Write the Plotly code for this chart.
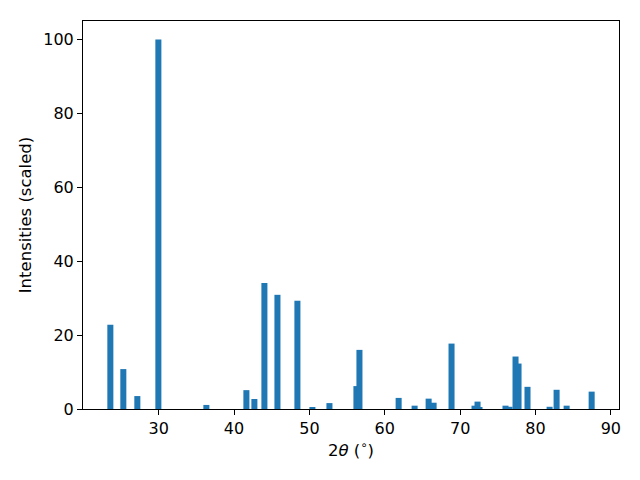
import plotly.graph_objects as go

two_theta = [23.59, 25.31, 27.17, 29.96, 36.33, 41.64, 42.70, 44.03, 45.76, 48.41,
             50.40, 52.66, 56.24, 56.64, 61.84, 63.96, 65.82, 66.48, 68.86, 71.91,
             72.31, 72.57, 76.02, 76.56, 77.35, 77.75, 78.94, 81.87, 82.80, 84.13, 87.45]
intensity = [22.8, 10.8, 3.5, 100, 1.1, 5.1, 2.7, 34.1, 30.9, 29.3,
             0.5, 1.6, 6.2, 16.0, 3.0, 0.9, 2.8, 1.7, 17.7, 0.9,
             2.0, 0.3, 0.9, 0.6, 14.2, 12.3, 6.0, 0.6, 5.2, 0.9, 4.7]
x_ticks = [30, 40, 50, 60, 70, 80, 90]
y_ticks = [0, 20, 40, 60, 80, 100]

fig = go.Figure()
fig.add_trace(go.Bar(x=two_theta, y=intensity, width=0.8,
                     marker=dict(color="#1f77b4", line=dict(width=0))))

axis_common = dict(showgrid=False, zeroline=False, showline=True, linecolor="black",
                   linewidth=1, mirror=True, ticks="outside", ticklen=5, tickwidth=1,
                   tickcolor="black", tickfont=dict(size=16, color="black"),
                   automargin=False)

# page body has an 8px margin, so the figure sits at (8, 8)
fig.update_layout(
    width=632, height=472,
    margin=dict(l=75, r=21, t=13, b=71),
    paper_bgcolor="white", plot_bgcolor="white",
    font=dict(family="DejaVu Sans", size=16, color="black"),
    barmode="overlay", showlegend=False,
    xaxis=dict(range=[19.96, 91.08], tickvals=x_ticks,
               title=dict(text="2<i>θ</i> (<sup>∘</sup>)", standoff=7,
                          font=dict(size=16.5)), **axis_common),
    yaxis=dict(range=[0, 105], tickvals=y_ticks,
               title=dict(text="Intensities (scaled)", standoff=7,
                          font=dict(size=16.5)), **axis_common),
)
fig.write_html("out.html")
